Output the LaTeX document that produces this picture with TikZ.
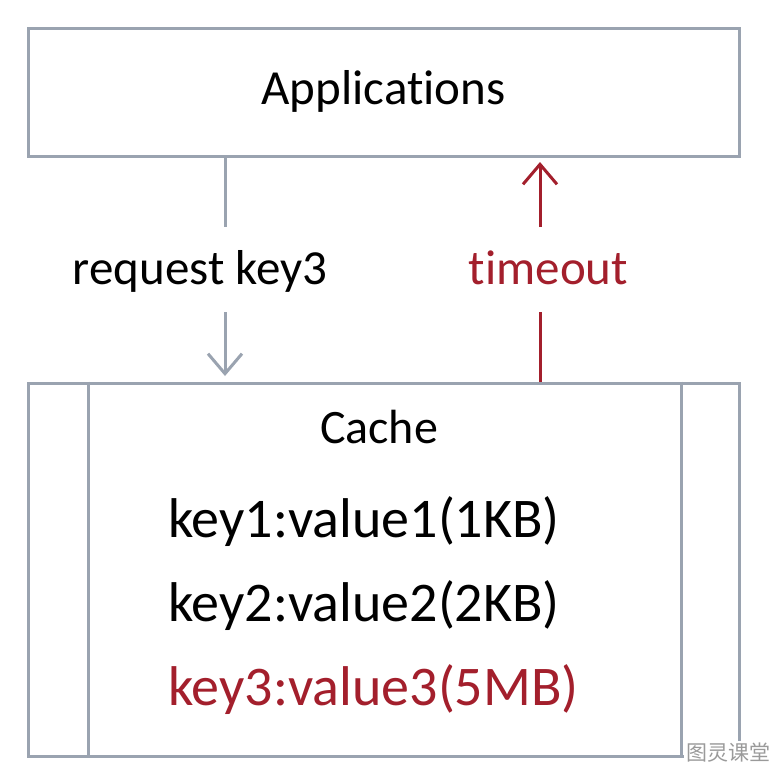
\documentclass[tikz,border=0pt]{standalone}
\usepackage{fontspec}
\setmainfont[Ligatures=NoCommon]{Carlito}
\newfontfamily\cjk{Noto Sans CJK SC}
\usetikzlibrary{arrows.meta}
\definecolor{boxgray}{HTML}{9AA3B0}
\definecolor{darkred}{HTML}{A31F2C}
\definecolor{wmgray}{HTML}{9A9A9A}
\tikzset{
  boxline/.style={draw=boxgray, line width=3pt},
  grayarrow/.style={draw=boxgray, line width=3pt},
  redarrow/.style={draw=darkred, line width=3pt},
  tip/.style={-{Straight Barb[length=20pt,width=34pt,line width=3pt]}},
  lbl/.style={inner sep=0pt},
}
\begin{document}
\begin{tikzpicture}[x=1pt,y=-1pt]
\useasboundingbox[fill=white] (0,0) rectangle (780,774);
% Applications box
\node[boxline, minimum width=711pt, minimum height=128pt, inner sep=0pt] (app) at (383.5,92) {};
\node[lbl, anchor=base, font=\fontsize{49}{58}\selectfont] (apptext) at (383.5,104) {Applications};
% Cache box
\node[boxline, minimum width=711pt, minimum height=373pt, inner sep=0pt] (cache) at (383.5,569.5) {};
\draw[boxline] (cache.north west) ++(62,0) coordinate (il1) -- (il1 |- cache.south);
\draw[boxline] (cache.north east) ++(-59,0) coordinate (il2) -- (il2 |- cache.south);
\node[lbl, anchor=base, font=\fontsize{48}{56}\selectfont] (cachetext) at (379,443.5) {Cache};
\node[lbl, font=\fontsize{56}{66}\selectfont, anchor=base west] (k1) at (168,537) {key1:value1(1KB)};
\node[lbl, font=\fontsize{56}{66}\selectfont, anchor=base west] (k2) at (168,621) {key2:value2(2KB)};
\node[lbl, font=\fontsize{56}{66}\selectfont, anchor=base west, text=darkred] (k3) at (168,705) {key3:value3(5MB)};
% labels
\node[lbl, anchor=base, font=\fontsize{49}{58}\selectfont] (req) at (200,284) {request key3};
\node[lbl, anchor=base, font=\fontsize{49}{58}\selectfont, text=darkred] (to) at (548.5,284) {timeout};
% arrows
\coordinate (g1) at (225,157);
\coordinate (g2) at (225,227);
\coordinate (g3) at (225,312);
\coordinate (g4) at (225,376);
\draw[grayarrow] (g1) -- (g2);
\draw[grayarrow, tip] (g3) -- (g4);
\coordinate (r1) at (540,382);
\coordinate (r2) at (540,312);
\coordinate (r3) at (540,227);
\coordinate (r4) at (540,162);
\draw[redarrow] (r1) -- (r2);
\draw[redarrow, tip] (r3) -- (r4);
% watermark
\node[lbl, fill=white, inner sep=2pt, text=wmgray, font=\cjk\fontsize{21}{24}\selectfont] (wm) at (728,753) {图灵课堂};
\end{tikzpicture}
\end{document}
